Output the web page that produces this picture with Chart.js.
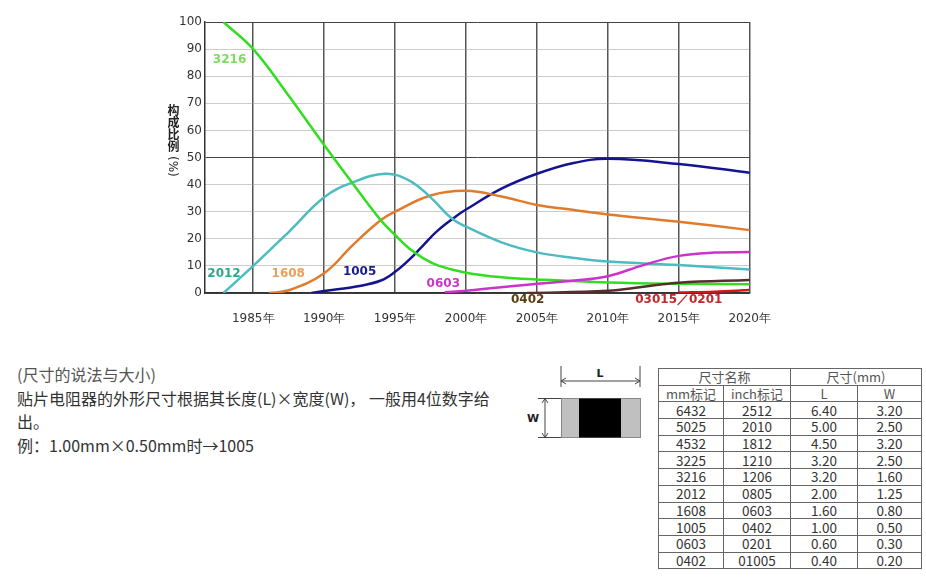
<!DOCTYPE html>
<html lang="zh">
<head>
    <meta charset="UTF-8">
    <title>贴片电阻尺寸构成比例</title>
    <style>
        body { margin: 0; width: 926px; height: 578px; background: #fff; position: relative; overflow: hidden; }
        #chartBox { position: absolute; left: 150px; top: 0; width: 640px; height: 335px; }
        #ytitle { position: absolute; left: 166px; top: 104px; writing-mode: vertical-rl; font: bold 12px/14px "Noto Sans CJK SC", sans-serif; color: #222; }
        #ytitle span { font: 12px/14px "DejaVu Sans", sans-serif; margin-top: 4px; }
        #note { position: absolute; left: 17px; top: 363px; font: 16px/23.5px "Noto Sans CJK SC", sans-serif; color: #333; }
        #note .sub { color: #555; }
        #chip { position: absolute; left: 525px; top: 360px; }
        #sizes { position: absolute; left: 658px; top: 368px; border-collapse: collapse; font: 13.5px "Noto Sans CJK SC", sans-serif; color: #333; }
        #sizes td { border: 1px solid #666; height: 15.7px; padding: 0; text-align: center; line-height: 15px; }
        #sizes tr.head td { color: #555; font-size: 13px; }
    </style>
</head>
<body>
    <div id="chartBox"><canvas id="myChart" width="640" height="335"></canvas></div>
    <div id="ytitle">构成比例<span>(%)</span></div>

    <div id="note">
        <span class="sub">(尺寸的说法与大小)</span><br>
        贴片电阻器的外形尺寸根据其长度(L)×宽度(W)， 一般用4位数字给<br>
        出。<br>
        例：1.00mm×0.50mm时→1005
    </div>

    <svg id="chip" width="125" height="85">
        <text x="75" y="17" font-family="DejaVu Sans" font-weight="bold" font-size="11" text-anchor="middle" fill="#222">L</text>
        <line x1="36" y1="6" x2="36" y2="27" stroke="#444"/>
        <line x1="115" y1="6" x2="115" y2="27" stroke="#444"/>
        <line x1="36" y1="21" x2="115" y2="21" stroke="#444"/>
        <polyline points="41,18 36,21 41,24" fill="none" stroke="#444"/>
        <polyline points="110,18 115,21 110,24" fill="none" stroke="#444"/>
        <rect x="36.5" y="38.5" width="79" height="39" fill="#c0c0c0" stroke="#888"/>
        <rect x="54" y="38.5" width="42" height="39" fill="#000"/>
        <line x1="13" y1="38.5" x2="36" y2="38.5" stroke="#444"/>
        <line x1="13" y1="77.5" x2="36" y2="77.5" stroke="#444"/>
        <line x1="20" y1="38.5" x2="20" y2="77.5" stroke="#444"/>
        <polyline points="17,43 20,38.5 23,43" fill="none" stroke="#444"/>
        <polyline points="17,73 20,77.5 23,73" fill="none" stroke="#444"/>
        <text x="8" y="62" font-family="DejaVu Sans" font-weight="bold" font-size="11" text-anchor="middle" fill="#222">W</text>
    </svg>

    <table id="sizes">
        <colgroup><col style="width:65px"><col style="width:67px"><col style="width:67px"><col style="width:64px"></colgroup>
        <tbody id="sizeRows">
            <tr class="head"><td colspan="2">尺寸名称</td><td colspan="2">尺寸(mm)</td></tr>
            <tr class="head"><td>mm标记</td><td>inch标记</td><td>L</td><td>W</td></tr>
        </tbody>
    </table>

    <script src="https://cdn.jsdelivr.net/npm/chart.js"></script>
    <script>
        // Anteile (%) je Baugröße
        const years3216 = [1982.9, 1985, 1987.5, 1990, 1992, 1994, 1995, 1996, 1997, 1998, 2000, 2002.5, 2005, 2010, 2015, 2020];
        const share3216 = [100, 90, 72.8, 54.6, 40.5, 26.8, 21.4, 16.4, 12.8, 10.2, 7.5, 5.8, 5.0, 3.9, 3.4, 3.2];

        const years2012 = [1982.9, 1985, 1987.5, 1990, 1992, 1994.3, 1996, 1997.5, 1999, 2000, 2002.5, 2005, 2007.5, 2010, 2015, 2020];
        const share2012 = [0, 10, 22.5, 35.3, 40.8, 44, 41.5, 35.3, 27.5, 24.5, 18.7, 15, 13, 11.6, 10.3, 8.7];

        const years1608 = [1986.1, 1987.5, 1990, 1992, 1994, 1995, 1997.5, 2000, 2002.5, 2005, 2007.5, 2010, 2015, 2020];
        const share1608 = [0, 1.0, 7.3, 17.6, 26.9, 30, 36, 37.7, 35.6, 32.5, 30.7, 29, 26.3, 23.2];

        const years1005 = [1989.1, 1990, 1992.5, 1994, 1995, 1996, 1997, 1998, 1999.3, 2000, 2002.5, 2005, 2007.5, 2010, 2015, 2020];
        const share1005 = [0, 0.7, 2.6, 4.6, 7.8, 12.3, 17.7, 23, 28.3, 30.8, 38.5, 44, 47.9, 49.5, 47.6, 44.4];

        const years0603 = [1998.5, 2000, 2005, 2007.5, 2010, 2012.5, 2015, 2017.5, 2020];
        const share0603 = [0.3, 0.8, 3.4, 4.5, 6.2, 10.3, 13.7, 14.9, 15.1];

        const years0402 = [2004.3, 2010, 2012.5, 2015, 2020];
        const share0402 = [0, 0.8, 2.3, 3.8, 4.8];

        const years0201 = [2015, 2017.5, 2020];
        const share0201 = [0.2, 0.5, 1.1];

        const xTickYears = [1985, 1990, 1995, 2000, 2005, 2010, 2015, 2020];

        // Tabelle: mm-Bezeichnung, inch-Bezeichnung, L, W
        const mmCodes = ['6432', '5025', '4532', '3225', '3216', '2012', '1608', '1005', '0603', '0402'];
        const inchCodes = ['2512', '2010', '1812', '1210', '1206', '0805', '0603', '0402', '0201', '01005'];
        const lengths = ['6.40', '5.00', '4.50', '3.20', '3.20', '2.00', '1.60', '1.00', '0.60', '0.40'];
        const widths = ['3.20', '2.50', '3.20', '2.50', '1.60', '1.25', '0.80', '0.50', '0.30', '0.20'];

        const tbody = document.getElementById('sizeRows');
        mmCodes.forEach((code, i) => {
            const tr = document.createElement('tr');
            [code, inchCodes[i], lengths[i], widths[i]].forEach(t => {
                const td = document.createElement('td');
                td.textContent = t;
                tr.appendChild(td);
            });
            tbody.appendChild(tr);
        });

        function points(xs, ys) {
            return xs.map((x, i) => ({ x: x, y: ys[i] }));
        }

        function line(label, xs, ys, color) {
            return {
                label: label,
                data: points(xs, ys),
                borderColor: color,
                borderWidth: 2.5,
                pointRadius: 0,
                tension: 0.4,
                fill: false
            };
        }

        const data = {
            datasets: [
                line('0402', years0402, share0402, '#5a2d2d'),
                line('03015/0201', years0201, share0201, '#d01818'),
                line('0603', years0603, share0603, '#cc33cc'),
                line('3216', years3216, share3216, '#33dd22'),
                line('2012', years2012, share2012, '#4cbcc0'),
                line('1608', years1608, share1608, '#e07b2c'),
                line('1005', years1005, share1005, '#141490')
            ]
        };

        // Beschriftungen der Kurven (Position in Jahr / Prozent)
        const curveLabels = [
            { text: '3216', x: 1983.33, y: 86, color: '#7ddc5a' },
            { text: '2012', x: 1982.94, y: 7, color: '#2aa889' },
            { text: '1608', x: 1987.47, y: 7, color: '#e8a05a' },
            { text: '1005', x: 1992.5, y: 7.8, color: '#1c1c8c' },
            { text: '0603', x: 1998.4, y: 3.3, color: '#cc33cc' },
            { text: '0402', x: 2004.35, y: -2.6, color: '#5c3d10' },
            { text: '03015／0201', x: 2015, y: -2.6, color: '#c0282a' }
        ];

        const labelPlugin = {
            id: 'curveLabels',
            afterDatasetsDraw(chart) {
                const c = chart.ctx;
                const xs = chart.scales.x, ys = chart.scales.y;
                c.save();
                c.font = 'bold 12px "DejaVu Sans"';
                c.textAlign = 'center';
                c.textBaseline = 'middle';
                curveLabels.forEach(l => {
                    c.fillStyle = l.color;
                    c.fillText(l.text, xs.getPixelForValue(l.x), ys.getPixelForValue(l.y));
                });
                c.restore();
            }
        };

        const config = {
            type: 'line',
            data: data,
            options: {
                responsive: false,
                animation: false,
                layout: { padding: { top: 22, right: 34, left: 0, bottom: 0 } },
                plugins: {
                    legend: { display: false },
                    tooltip: { enabled: false }
                },
                scales: {
                    x: {
                        type: 'linear',
                        min: 1981.6,
                        max: 2020,
                        afterBuildTicks: axis => { axis.ticks = xTickYears.map(v => ({ value: v })); },
                        afterFit: axis => { axis.height = 42; },
                        ticks: {
                            padding: 19,
                            color: '#333',
                            font: { family: 'DejaVu Sans', size: 12 },
                            callback: v => v + '年',
                            maxRotation: 0,
                            autoSkip: false
                        },
                        grid: { color: '#555', lineWidth: 1.5, drawTicks: false },
                        border: { color: '#333', width: 1.5 }
                    },
                    y: {
                        min: 0,
                        max: 100,
                        afterFit: axis => { axis.width = 55; },
                        ticks: {
                            stepSize: 10,
                            padding: 3,
                            color: '#333',
                            font: { family: 'DejaVu Sans', size: 12 }
                        },
                        grid: {
                            drawTicks: false,
                            color: ctx => (ctx.tick && ctx.tick.value % 50 !== 0) ? '#999' : '#444',
                            lineWidth: 1
                        },
                        border: {
                            color: '#333',
                            width: 1.5,
                            dash: ctx => (ctx.type === 'tick' && ctx.tick.value % 50 !== 0) ? [1, 1] : []
                        }
                    }
                }
            },
            plugins: [labelPlugin]
        };

        const ctx = document.getElementById('myChart').getContext('2d');
        new Chart(ctx, config);
    </script>
</body>
</html>
